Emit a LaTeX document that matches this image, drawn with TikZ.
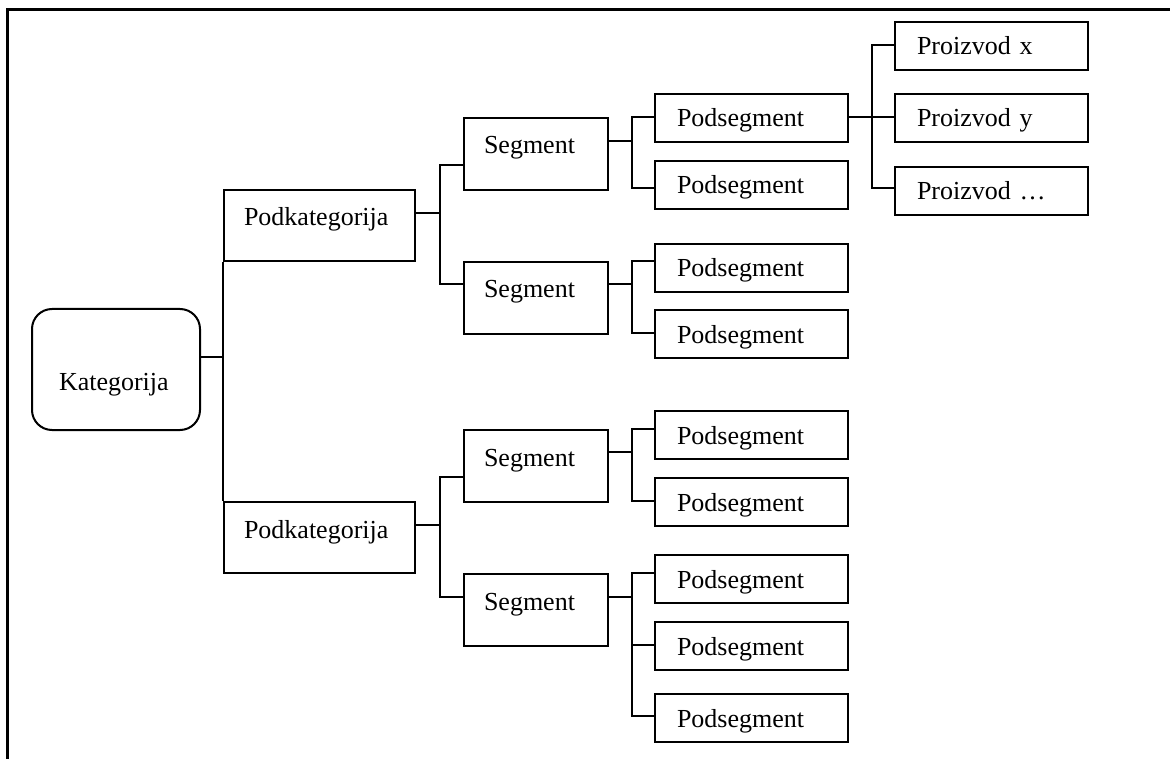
\documentclass[tikz,border=0pt]{standalone}
\usepackage{fontspec}
\setmainfont{Liberation Serif}
\usetikzlibrary{calc}
\tikzset{
  base/.style={draw, line width=2pt, inner ysep=0pt, anchor=north west, align=left,
    font=\fontsize{26}{30}\selectfont},
  catbox/.style={base, rounded corners=20pt, inner xsep=27pt, text width=114pt,
    text height=81pt, text depth=40pt},
  subcatbox/.style={base, inner xsep=20pt, text width=151pt, text height=36pt, text depth=35pt},
  segbox/.style={base, inner xsep=20pt, text width=104pt, text height=36pt, text depth=36pt},
  leafbox/.style={base, inner xsep=22pt, text width=149pt, text height=33pt, text depth=15pt},
  link/.style={line width=2pt},
  frameline/.style={line width=3pt},
}
% connection point on a node edge, given as a distance below an anchor
\newcommand\port[3]{\coordinate (#1) at ([yshift=-#3pt]#2);}
% elbow connector with its vertical run halfway between the two points
\newcommand\elbow[2]{\draw[link] (#1) -| ($(#1)!.5!(#2)$) |- (#2);}
\begin{document}
\begin{tikzpicture}[x=1pt, y=-1pt]
\useasboundingbox (0,0) rectangle (1170,759);
\draw[frameline] (7,759) -- (7,10) -- (1170,10);

% category
\node[catbox] (K) at (31,308) {Kategorija};

% subcategories
\node[subcatbox] (pk1) at (223,189) {Podkategorija};
\node[subcatbox] (pk2) at (223,501) {Podkategorija};

% segments
\node[segbox] (seg1) at (463,117) {Segment};
\node[segbox] (seg2) at (463,261) {Segment};
\node[segbox] (seg3) at (463,429) {Segment};
\node[segbox] (seg4) at (463,573) {Segment};

% subsegments
\node[leafbox] (ps1) at (654,93)  {Podsegment};
\node[leafbox] (ps2) at (654,160) {Podsegment};
\node[leafbox] (ps3) at (654,243) {Podsegment};
\node[leafbox] (ps4) at (654,309) {Podsegment};
\node[leafbox] (ps5) at (654,410) {Podsegment};
\node[leafbox] (ps6) at (654,477) {Podsegment};
\node[leafbox] (ps7) at (654,554) {Podsegment};
\node[leafbox] (ps8) at (654,621) {Podsegment};
\node[leafbox] (ps9) at (654,693) {Podsegment};

% products
\node[leafbox] (pz1) at (894,21)  {Proizvod x};
\node[leafbox] (pz2) at (894,93)  {Proizvod y};
\node[leafbox] (pz3) at (894,166) {Proizvod …};

% connection points
\port{k-out}{K.north east}{49}
\port{pk1-out}{pk1.north east}{24}
\port{pk2-out}{pk2.north east}{24}
\port{seg1-in}{seg1.north west}{48}
\port{seg2-in}{seg2.north west}{23}
\port{seg3-in}{seg3.north west}{48}
\port{seg4-in}{seg4.north west}{24}
\port{seg1-out}{seg1.north east}{24}
\port{seg2-out}{seg2.north east}{23}
\port{seg3-out}{seg3.north east}{23}
\port{seg4-out}{seg4.north east}{24}
\port{ps1-in}{ps1.north west}{24}
\port{ps2-in}{ps2.north west}{28}
\port{ps3-in}{ps3.north west}{18}
\port{ps4-in}{ps4.north west}{24}
\port{ps5-in}{ps5.north west}{19}
\port{ps6-in}{ps6.north west}{24}
\port{ps7-in}{ps7.north west}{19}
\port{ps8-in}{ps8.north west}{24}
\port{ps9-in}{ps9.north west}{23}
\port{ps1-out}{ps1.north east}{24}
\port{pz1-in}{pz1.north west}{24}
\port{pz2-in}{pz2.north west}{24}
\port{pz3-in}{pz3.north west}{22}

% connectors
\draw[link] (k-out) -| (pk1.south west);
\draw[link] (k-out) -| (pk2.north west);
\elbow{pk1-out}{seg1-in}
\elbow{pk1-out}{seg2-in}
\elbow{pk2-out}{seg3-in}
\elbow{pk2-out}{seg4-in}
\elbow{seg1-out}{ps1-in}
\elbow{seg1-out}{ps2-in}
\elbow{seg2-out}{ps3-in}
\elbow{seg2-out}{ps4-in}
\elbow{seg3-out}{ps5-in}
\elbow{seg3-out}{ps6-in}
\elbow{seg4-out}{ps7-in}
\elbow{seg4-out}{ps8-in}
\elbow{seg4-out}{ps9-in}
\elbow{ps1-out}{pz1-in}
\elbow{ps1-out}{pz2-in}
\elbow{ps1-out}{pz3-in}
\end{tikzpicture}
\end{document}
